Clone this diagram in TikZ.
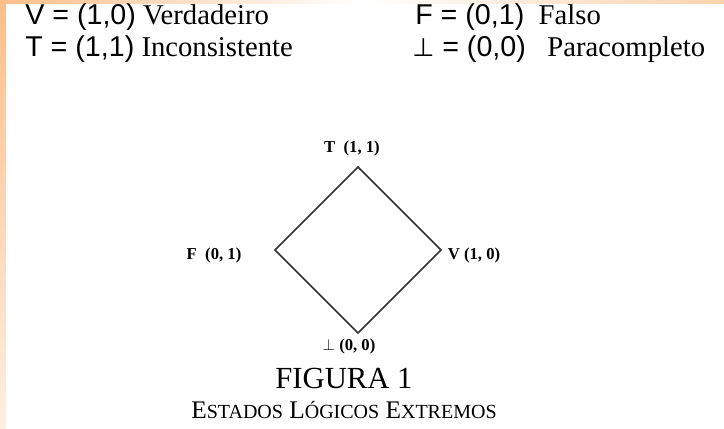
\documentclass[tikz,border=0pt]{standalone}
\usepackage{fontspec}
\setmainfont{Liberation Serif}
\newfontfamily\arialf{Liberation Sans}
\newfontfamily\symf{DejaVu Sans}
\usetikzlibrary{positioning}

\definecolor{frameorange}{RGB}{252,190,138}

% fake small caps (Liberation Serif has none)
\newcommand{\scword}[2]{#1{\fontsize{15pt}{17pt}\selectfont #2}}

\begin{document}
\begin{tikzpicture}[
    x=0.75pt, y=-0.75pt,
    every node/.style={inner sep=0pt},
    defn/.style={anchor=west, text height=15pt, text depth=4pt,
                 font=\fontsize{21.5pt}{24pt}\selectfont},
    vlbl/.style={font=\bfseries\fontsize{12.5pt}{14pt}\selectfont},
    side/.style={line width=1.1pt, black!80},
  ]
  \useasboundingbox (0,0) rectangle (724,428);
  % frame strips
  \shade[top color=frameorange, bottom color=frameorange!25] (0,0) rectangle (6,428);
  \shade[left color=frameorange, right color=frameorange!70, middle color=white] (0,0) rectangle (724,4);

  % definitions
  \node[defn] (dv) at (25,17) {{\arialf V = (1,0)} Verdadeiro};
  \node[defn] (dt) at (25,49) {{\arialf T = (1,1)} Inconsistente};
  \node[defn] (df) at (415,17) {{\arialf F = (0,1)}\ \ Falso};
  \node[defn] (db) at (412,49) {{\symf\fontsize{19pt}{22pt}\selectfont ⊥}{\arialf\ = (0,0)}\ \ \ Paracompleto};

  % lattice
  \coordinate (t) at (358,167);
  \coordinate (f) at (275,250);
  \coordinate (v) at (441,250);
  \coordinate (b) at (358,333);
  \draw[side] (t) -- (v) -- (b) -- (f) -- cycle;

  \node[vlbl] (lt) at (352,148) {T\ \ (1, 1)};
  \node[vlbl] (lf) at (214,255) {F\ \ (0, 1)};
  \node[vlbl] (lv) at (474,255) {V\ (1, 0)};
  \node[vlbl] (lb) at (349,346) {$\perp$\ (0, 0)};

  % caption
  \node[font=\fontsize{23pt}{26pt}\selectfont] (fig) at (344,378) {FIGURA 1};
  \node[font=\fontsize{19pt}{22pt}\selectfont, below=9pt of fig] (cap)
    {\scword{E}{STADOS} \scword{L}{ÓGICOS} \scword{E}{XTREMOS}};
\end{tikzpicture}
\end{document}
